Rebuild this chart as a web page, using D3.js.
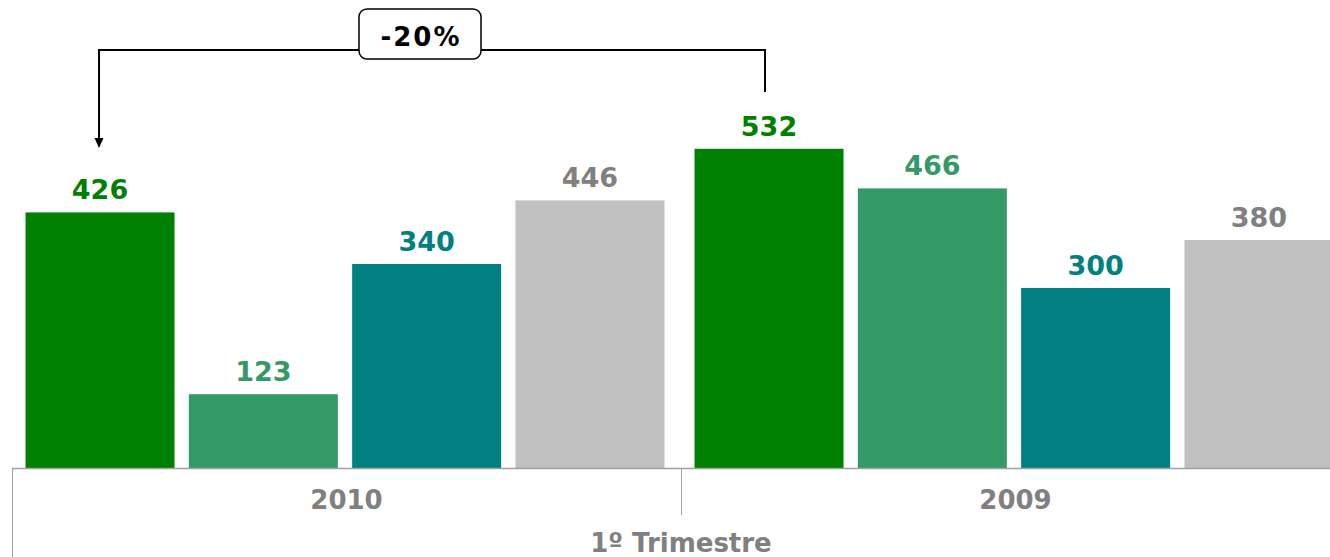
<!DOCTYPE html>
<html>
<head>
<meta charset="utf-8">
<script src="https://cdn.jsdelivr.net/npm/d3@7"></script>
<style>
  body { margin: 0; background: #fff; }
  text { font-family: "DejaVu Sans", Verdana, sans-serif; font-weight: bold; }
</style>
</head>
<body>
<div id="chart"></div>
<script>
var w = 1330;
var h = 557;

// data
var years = ["2010", "2009"];
var series = ["s1", "s2", "s3", "s4"];
var values2010 = [426, 123, 340, 446];
var values2009 = [532, 466, 300, 380];
var groupTitle = "1º Trimestre";
var changeLabel = "-20%";

var barColors = ["#008000", "#339966", "#008080", "#c0c0c0"];
var labelColors = ["#008000", "#339966", "#008080", "#808080"];

var rows = [
	{ year: years[0], values: values2010 },
	{ year: years[1], values: values2009 }
];

var svg = d3.select("#chart")
	.append("svg")
	.attr("width", w)
	.attr("height", h);

var baseY = 468;
var left = 12;

var x0 = d3.scaleBand()
	.domain(years)
	.range([left, left + 669 * 2]);

var x1 = d3.scaleBand()
	.domain(series)
	.range([0, x0.bandwidth()])
	.paddingInner(0.0876)
	.paddingOuter(0.092)
	.align(0.45);

var y = d3.scaleLinear()
	.domain([0, 780])
	.range([baseY, 0]);

var groups = svg.selectAll("g.year")
	.data(rows)
	.enter()
	.append("g")
	.attr("class", "year")
	.attr("transform", (d) => "translate(" + x0(d.year) + ",0)");

groups.selectAll("rect")
	.data((d) => d.values)
	.enter()
	.append("rect")
	.attr("x", (d, i) => x1(series[i]))
	.attr("y", (d) => y(d))
	.attr("width", x1.bandwidth())
	.attr("height", (d) => baseY - y(d))
	.attr("fill", (d, i) => barColors[i]);

groups.selectAll("text.val")
	.data((d) => d.values)
	.enter()
	.append("text")
	.attr("class", "val")
	.attr("x", (d, i) => x1(series[i]) + x1.bandwidth() / 2)
	.attr("y", (d) => y(d) - 13)
	.attr("text-anchor", "middle")
	.attr("font-size", "27px")
	.attr("fill", (d, i) => labelColors[i])
	.text((d) => d);

// axis
svg.append("line")
	.attr("x1", left).attr("x2", w)
	.attr("y1", baseY + 0.5).attr("y2", baseY + 0.5)
	.attr("stroke", "#a0a0a0")
	.attr("stroke-width", 1.5);

svg.append("line")
	.attr("x1", left + 0.5).attr("x2", left + 0.5)
	.attr("y1", baseY).attr("y2", h)
	.attr("stroke", "#a0a0a0");

svg.append("line")
	.attr("x1", x0(years[1]) + 0.5).attr("x2", x0(years[1]) + 0.5)
	.attr("y1", baseY).attr("y2", 515)
	.attr("stroke", "#a0a0a0");

svg.selectAll("text.year")
	.data(years)
	.enter()
	.append("text")
	.attr("class", "year")
	.attr("x", (d) => x0(d) + x0.bandwidth() / 2)
	.attr("y", 509)
	.attr("text-anchor", "middle")
	.attr("font-size", "26px")
	.attr("fill", "#808080")
	.text((d) => d);

svg.append("text")
	.attr("x", x0(years[1]))
	.attr("y", 552)
	.attr("text-anchor", "middle")
	.attr("font-size", "26px")
	.attr("fill", "#808080")
	.text(groupTitle);

// change bracket
var ax = x0(years[0]) + x1(series[0]) + x1.bandwidth() / 2 - 1;
var bx = x0(years[1]) + x1(series[0]) + x1.bandwidth() / 2 - 4;
var lineY = 50;

svg.append("path")
	.attr("d", "M" + bx + "," + 92 + "V" + lineY + "H" + ax + "V" + 139)
	.attr("fill", "none")
	.attr("stroke", "#000")
	.attr("stroke-width", 2);

svg.append("path")
	.attr("d", "M" + (ax - 4.5) + ",138L" + (ax + 4.5) + ",138L" + ax + ",148Z")
	.attr("fill", "#000");

svg.append("rect")
	.attr("x", 359).attr("y", 9)
	.attr("width", 122).attr("height", 50)
	.attr("rx", 8)
	.attr("fill", "#fff")
	.attr("stroke", "#000")
	.attr("stroke-width", 1.5);

svg.append("text")
	.attr("x", 421)
	.attr("y", 46)
	.attr("text-anchor", "middle")
	.attr("font-size", "26px")
	.attr("letter-spacing", "2px")
	.attr("fill", "#000")
	.text(changeLabel);
</script>
</body>
</html>
